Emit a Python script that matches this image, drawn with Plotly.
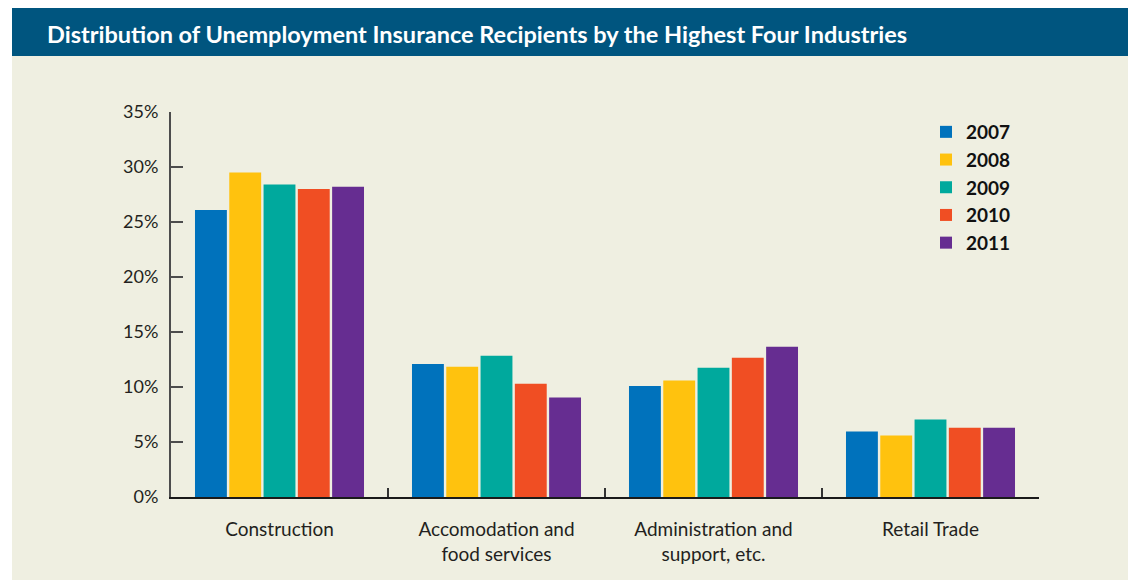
import plotly.graph_objects as go

categories = ["Construction", "Accomodation and<br>food services", "Administration and<br>support, etc.", "Retail Trade"]
years = ["2007", "2008", "2009", "2010", "2011"]
values = {
    "2007": [26.1, 12.1, 10.1, 5.95],
    "2008": [29.5, 11.85, 10.6, 5.6],
    "2009": [28.4, 12.85, 11.75, 7.05],
    "2010": [28.0, 10.3, 12.65, 6.3],
    "2011": [28.2, 9.05, 13.65, 6.3],
}
colors = ["#0072BC", "#FFC20E", "#00A99D", "#F04E23", "#662D91"]
yticks = [0, 5, 10, 15, 20, 25, 30, 35]
yticklabels = ["0%", "5%", "10%", "15%", "20%", "25%", "30%", "35%"]
title_text = "Distribution of Unemployment Insurance Recipients by the Highest Four Industries"

OFF = 8  # page body margin
W, H = 1136 - OFF, 580 - OFF
L, R, T, B = 171 - OFF, 1039 - OFF, 112 - OFF, 497 - OFF

def px(x):
    return (x - OFF - L) / (R - L)

def py(y):
    return (B - (y - OFF)) / (B - T)

fig = go.Figure()
for yr, c in zip(years, colors):
    fig.add_trace(go.Bar(name=yr, x=categories, y=values[yr], marker=dict(color=c, line=dict(width=0))))

font_main = "Lato, 'Open Sans', sans-serif"

fig.update_layout(
    width=W, height=H,
    margin=dict(l=L, r=W - R, t=T, b=H - B, pad=0),
    paper_bgcolor="white",
    plot_bgcolor="rgba(0,0,0,0)",
    barmode="group",
    bargap=0.21,
    bargroupgap=0.07,
    showlegend=True,
    legend=dict(
        x=px(926), y=py(113), xanchor="left", yanchor="top",
        bgcolor="rgba(0,0,0,0)",
        font=dict(family=font_main, size=19, color="#111111", weight="bold"),
        tracegroupgap=0, itemsizing="constant",
    ),
    xaxis=dict(
        showline=True, linecolor="#1a1a1a", linewidth=2,
        ticks="inside", tickson="boundaries", ticklen=9, tickwidth=2, tickcolor="#333333",
        tickfont=dict(family=font_main, size=19, color="#231F20"),
        ticklabelstandoff=14,
        showgrid=False, zeroline=False,
    ),
    yaxis=dict(
        range=[0, 35], tickvals=yticks, ticktext=yticklabels,
        showline=True, linecolor="#4d4d4d", linewidth=2,
        ticks="inside", ticklen=12, tickwidth=2, tickcolor="#4d4d4d",
        tickfont=dict(family=font_main, size=18, color="#231F20"),
        ticklabelstandoff=7,
        showgrid=False, zeroline=False,
    ),
    shapes=[
        dict(type="rect", xref="paper", yref="paper", layer="below",
             x0=px(12), x1=px(1140), y0=py(56), y1=py(585),
             fillcolor="#EFEFE1", line=dict(width=0)),
        dict(type="rect", xref="paper", yref="paper", layer="below",
             x0=px(12), x1=px(1140), y0=py(8), y1=py(56),
             fillcolor="#00557F", line=dict(width=0)),
    ],
    annotations=[
        dict(text="<b>" + title_text + "</b>", xref="paper", yref="paper",
             x=px(45), y=py(33.5), xanchor="left", yanchor="middle", showarrow=False,
             font=dict(family=font_main, size=23.5, color="white")),
    ],
)

fig.write_html("out.html")
